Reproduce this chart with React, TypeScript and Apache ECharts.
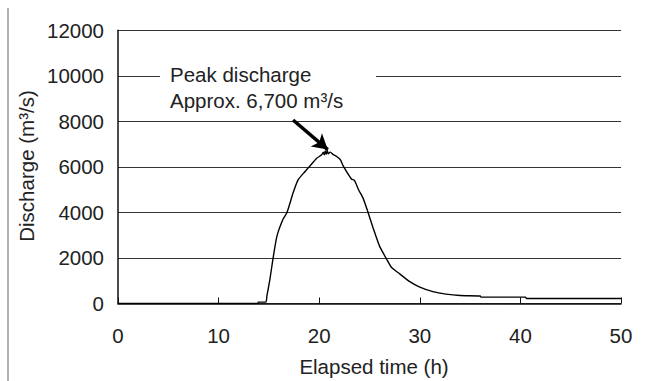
import React, { useEffect, useRef } from "react";
import * as echarts from "echarts";

const elapsedHours = [
  0, 13.9, 13.95, 14.7, 14.8, 15.1, 15.4, 15.8, 16.4, 16.8, 17.4, 17.9, 18.6, 19.1,
  19.75, 20.25, 20.4, 20.5, 20.6, 20.7, 20.8, 20.9, 21.1, 21.4, 21.7, 22.1, 22.4,
  23.2, 23.5, 23.9, 24.35, 24.85, 25.35, 26.0, 26.7, 27.2, 28.0, 29.0, 30.0, 31.3,
  32.6, 34.0, 36.0, 36.1, 40.5, 40.6, 50,
];
const dischargeValues = [
  0, 0, 60, 60, 330, 1060, 1950, 2960, 3700, 4000, 4850, 5430, 5800, 6050,
  6380, 6530, 6650, 6530, 6700, 6550, 6720, 6580, 6650, 6540, 6470, 6320, 6030,
  5470, 5410, 5010, 4640, 4010, 3330, 2520, 1950, 1580, 1300, 960, 720, 520,
  410, 350, 330, 280, 280, 220, 220,
];
const xTicks = { min: 0, max: 50, interval: 10 };
const yTicks = { min: 0, max: 12000, interval: 2000 };
const annotationLines = ["Peak discharge", "Approx. 6,700 m³/s"];
const arrowFrom = [17.4, 8060];
const arrowTo = [20.85, 6760];

const FONT = "'Liberation Sans', Arial, Helvetica, sans-serif";
const TXT = "#222";
const FS = 20.5;

export default function App() {
  const ref = useRef<HTMLDivElement>(null);
  useEffect(() => {
    if (!ref.current) return;
    const chart = echarts.init(ref.current, undefined, { renderer: "svg" });
    const data = elapsedHours.map((t, i) => [t, dischargeValues[i]]);
    chart.setOption({
      animation: false,
      backgroundColor: "#fff",
      grid: { left: 118, right: 25, top: 30.3, bottom: 77.5, containLabel: false },
      xAxis: {
        type: "value",
        min: xTicks.min,
        max: xTicks.max,
        interval: xTicks.interval,
        axisLine: { show: true, onZero: false, lineStyle: { color: "#111", width: 1.5 } },
        axisTick: { show: true, inside: true, length: 6, lineStyle: { color: "#111", width: 1 } },
        axisLabel: { color: TXT, fontSize: FS, fontFamily: FONT, margin: 21, formatter: (v: number) => String(v) },
        splitLine: { show: false },
      },
      yAxis: {
        type: "value",
        min: yTicks.min,
        max: yTicks.max,
        interval: yTicks.interval,
        axisLine: { show: true, lineStyle: { color: "#111", width: 1.5 } },
        axisTick: { show: false },
        axisLabel: { color: TXT, fontSize: FS, fontFamily: FONT, margin: 14, formatter: (v: number) => String(v) },
        splitLine: { show: true, lineStyle: { color: "#333", width: 1.2 } },
      },
      series: [
        {
          type: "line",
          data,
          showSymbol: false,
          symbol: "none",
          smooth: 0.2,
          lineStyle: { color: "#000", width: 1.4 },
          z: 5,
          markLine: {
            silent: true,
            symbol: ["none", "arrow"],
            symbolSize: [13, 15],
            label: { show: false },
            lineStyle: { color: "#000", width: 3.5, type: "solid" },
            data: [[{ coord: arrowFrom }, { coord: arrowTo }]],
          },
        },
      ],
      graphic: [
        {
          type: "line",
          z: 100,
          shape: { x1: 8, y1: 8, x2: 8, y2: 381 },
          style: { stroke: "#999", lineWidth: 1.5 },
        },
        {
          type: "rect",
          z: 100,
          shape: { x: 160, y: 60, width: 216, height: 52 },
          style: { fill: "#fff" },
        },
        {
          type: "text",
          z: 101,
          x: 170,
          y: 74,
          style: { text: annotationLines[0], fill: TXT, fontSize: FS, fontFamily: FONT, verticalAlign: "middle" },
        },
        {
          type: "text",
          z: 101,
          x: 170,
          y: 100,
          style: { text: annotationLines[1], fill: TXT, fontSize: FS, fontFamily: FONT, verticalAlign: "middle" },
        },
        {
          type: "text",
          z: 101,
          x: 26,
          y: 166,
          rotation: Math.PI / 2,
          style: { text: "Discharge (m³/s)", fill: TXT, fontSize: FS, fontFamily: FONT, align: "center", verticalAlign: "middle" },
        },
        {
          type: "text",
          z: 101,
          x: 374,
          y: 366,
          style: { text: "Elapsed time (h)", fill: TXT, fontSize: FS, fontFamily: FONT, align: "center", verticalAlign: "middle" },
        },
      ],
    });
    return () => chart.dispose();
  }, []);
  return <div ref={ref} style={{ position: "fixed", left: 0, top: 0, width: 646, height: 381 }} />;
}
